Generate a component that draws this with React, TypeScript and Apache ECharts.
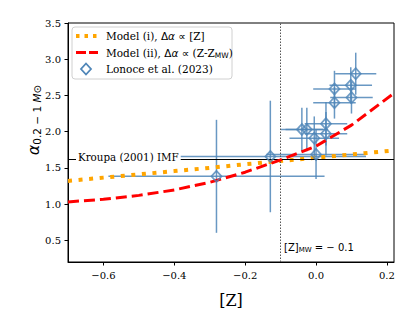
import React, { useEffect, useRef } from "react";
import * as echarts from "echarts";

// Lonoce et al. (2023) measurements
const obsZ = [0.112, 0.098, 0.052, 0.100, 0.052, 0.028, -0.040, -0.026, -0.005, 0.028, 0.000, -0.129, -0.281];
const obsAlpha = [2.80, 2.64, 2.59, 2.47, 2.40, 2.11, 2.03, 2.03, 1.91, 1.97, 1.685, 1.657, 1.383];
const obsZErr = [0.058, 0.06, 0.06, 0.06, 0.06, 0.06, 0.06, 0.06, 0.07, 0.06, 0.14, 0.27, 0.305];
const obsAlphaErr = [0.29, 0.25, 0.25, 0.22, 0.22, 0.3, 0.3, 0.3, 0.3, 0.3, 0.34, 0.77, 0.78];

// Model curves
const modelZ = [-0.7, -0.6, -0.5, -0.4, -0.3, -0.2, -0.1, 0.0, 0.1, 0.22];
const model1Alpha = [1.32, 1.365, 1.41, 1.455, 1.50, 1.55, 1.595, 1.64, 1.685, 1.74];
const model2Alpha = [1.03, 1.065, 1.12, 1.195, 1.30, 1.44, 1.61, 1.80, 2.09, 2.53];

const kroupaAlpha = 1.62;
const zMW = -0.1;

const xTicks = [-0.6, -0.4, -0.2, 0.0, 0.2];
const yTicks = [0.5, 1.0, 1.5, 2.0, 2.5, 3.0, 3.5];

const SERIF = "DejaVu Serif";
const SANS = "DejaVu Sans";
const BLUE = "#4f86b8";
const ORANGE = "#ffa500";
const RED = "#ff0000";

const fmt = (v: number) => (v < 0 ? "\u2212" : "") + Math.abs(v).toFixed(1);
const ts = (size: number, fam: string, italic = false) => ({
  fontFamily: fam,
  fontSize: size,
  fontStyle: italic ? "italic" : "normal",
  fill: "#000",
});

export default function App() {
  const ref = useRef<HTMLDivElement>(null);
  useEffect(() => {
    if (!ref.current) return;
    const chart = echarts.init(ref.current, undefined, { renderer: "svg" });
    const obs = obsZ.map((z, i) => [z, obsAlpha[i], obsZErr[i], obsAlphaErr[i]]);
    const legendRich = {
      t: ts(10.5, SERIF),
      g: ts(10.5, SANS),
      i: ts(10.5, SANS, true),
      s: { ...ts(7.5, SANS), verticalAlign: "bottom", padding: [5, 0, 0, 0] },
    };
    const legendLabels = [
      "{t|Model (i), }{g|\u0394}{i|\u03b1}{g| \u221d }{t|[Z]}",
      "{t|Model (ii), }{g|\u0394}{i|\u03b1}{g| \u221d }{t|(Z-Z}{s|MW}{t|)}",
      "{t|Lonoce et al. (2023)}",
    ];
    const lgX = 72, lgY = 27, rowY = [36, 52.5, 69];
    chart.setOption({
      animation: false,
      grid: { left: 68, top: 23, right: 21, bottom: 61, show: true, borderColor: "#000", borderWidth: 1 },
      xAxis: {
        type: "value",
        min: -0.7,
        max: 0.22,
        name: "[Z]",
        nameLocation: "middle",
        nameGap: 30,
        nameTextStyle: { fontFamily: SERIF, fontSize: 16, color: "#000" },
        axisLine: { show: true, onZero: false, lineStyle: { color: "#000", width: 1 } },
        axisTick: { show: true, inside: false, length: 3.5, customValues: xTicks, lineStyle: { color: "#000" } },
        axisLabel: { customValues: xTicks, formatter: (v: number) => fmt(v), fontFamily: SERIF, fontSize: 10, color: "#000", margin: 8 },
        splitLine: { show: false },
      },
      yAxis: {
        type: "value",
        min: 0.2,
        max: 3.5,
        axisLine: { show: true, onZero: false, lineStyle: { color: "#000", width: 1 } },
        axisTick: { show: true, inside: false, length: 3.5, customValues: yTicks, lineStyle: { color: "#000" } },
        axisLabel: { customValues: yTicks, formatter: (v: number) => v.toFixed(1), fontFamily: SERIF, fontSize: 10, color: "#000", margin: 7 },
        splitLine: { show: false },
      },
      series: [
        {
          name: "err",
          type: "custom",
          z: 2,
          data: obs,
          renderItem: (params: any, api: any) => {
            const x = api.value(0), y = api.value(1), xe = api.value(2), ye = api.value(3);
            const l = api.coord([x - xe, y]);
            const r = api.coord([x + xe, y]);
            const t = api.coord([x, y + ye]);
            const b = api.coord([x, y - ye]);
            const st = { stroke: BLUE, lineWidth: 1.5, opacity: 0.85 };
            return {
              type: "group",
              children: [
                { type: "line", shape: { x1: l[0], y1: l[1], x2: r[0], y2: r[1] }, style: st },
                { type: "line", shape: { x1: t[0], y1: t[1], x2: b[0], y2: b[1] }, style: st },
              ],
            };
          },
        },
        {
          name: "Model (i)",
          type: "line",
          z: 4,
          data: modelZ.map((z, i) => [z, model1Alpha[i]]),
          showSymbol: false,
          symbol: "none",
          lineStyle: { color: ORANGE, width: 4, type: [4, 6.6], cap: "butt" },
        },
        {
          name: "Model (ii)",
          type: "line",
          z: 5,
          data: modelZ.map((z, i) => [z, model2Alpha[i]]),
          showSymbol: false,
          symbol: "none",
          lineStyle: { color: RED, width: 3, type: [11, 5], cap: "butt" },
          markLine: {
            silent: true,
            symbol: "none",
            label: { show: false },
            data: [
              { yAxis: kroupaAlpha, lineStyle: { color: "#000", width: 1.2, type: "solid" } },
              { xAxis: zMW, lineStyle: { color: "#555", width: 1, type: [1.5, 1.5] } },
            ],
          },
        },
        {
          name: "Lonoce et al. (2023)",
          type: "scatter",
          z: 6,
          data: obs.map((d) => [d[0], d[1]]),
          symbol: "diamond",
          symbolSize: [10, 11],
          itemStyle: { color: "rgba(255,255,255,0)", borderColor: BLUE, borderWidth: 1.8 },
        },
      ],
      graphic: [
        {
          type: "text",
          z: 100,
          x: 33,
          y: 120,
          rotation: Math.PI / 2,
          style: {
            text: "{a|\u03b1}{s|0.2 \u2212 1 }{si|M}{s|\u2299}",
            align: "center",
            verticalAlign: "middle",
            rich: {
              a: ts(16, SANS, true),
              s: { ...ts(10.5, SANS), verticalAlign: "bottom", padding: [7, 0, 0, 0] },
              si: { ...ts(10.5, SANS, true), verticalAlign: "bottom", padding: [7, 0, 0, 0] },
            },
          },
        },
        {
          type: "text",
          z: 100,
          left: 76,
          top: 151,
          style: {
            text: "Kroupa (2001) IMF",
            ...ts(10.3, SERIF),
            backgroundColor: "#fff",
            padding: [1, 2, 1, 2],
          },
        },
        {
          type: "text",
          z: 100,
          left: 284,
          top: 242,
          style: {
            text: "{a|[Z]}{s|MW}{a| = \u2212 0.1}",
            rich: {
              a: ts(10, SANS),
              s: { ...ts(7, SANS), verticalAlign: "bottom", padding: [5, 0, 0, 0] },
            },
          },
        },
        // legend
        {
          type: "rect",
          z: 110,
          shape: { x: lgX, y: lgY, width: 160, height: 52, r: 3 },
          style: { fill: "rgba(255,255,255,0.85)", stroke: "#d0d0d0", lineWidth: 1 },
        },
        {
          type: "line",
          z: 111,
          shape: { x1: 76, y1: rowY[0], x2: 98, y2: rowY[0] },
          style: { stroke: ORANGE, lineWidth: 4, lineDash: [3.5, 5], lineCap: "butt" },
        },
        {
          type: "line",
          z: 111,
          shape: { x1: 76, y1: rowY[1], x2: 98, y2: rowY[1] },
          style: { stroke: RED, lineWidth: 3, lineDash: [10, 3], lineCap: "butt" },
        },
        {
          type: "polygon",
          z: 111,
          shape: { points: [[86, rowY[2] - 5.5], [91, rowY[2]], [86, rowY[2] + 5.5], [81, rowY[2]]] },
          style: { fill: "none", stroke: BLUE, lineWidth: 1.8 },
        },
        ...legendLabels.map((txt, k) => ({
          type: "text",
          z: 111,
          x: 106,
          y: rowY[k],
          style: { text: txt, rich: legendRich, verticalAlign: "middle", align: "left" },
        })),
      ],
    });
    return () => chart.dispose();
  }, []);
  return <div ref={ref} style={{ width: 415, height: 323, position: "absolute", left: 0, top: 0 }} />;
}
